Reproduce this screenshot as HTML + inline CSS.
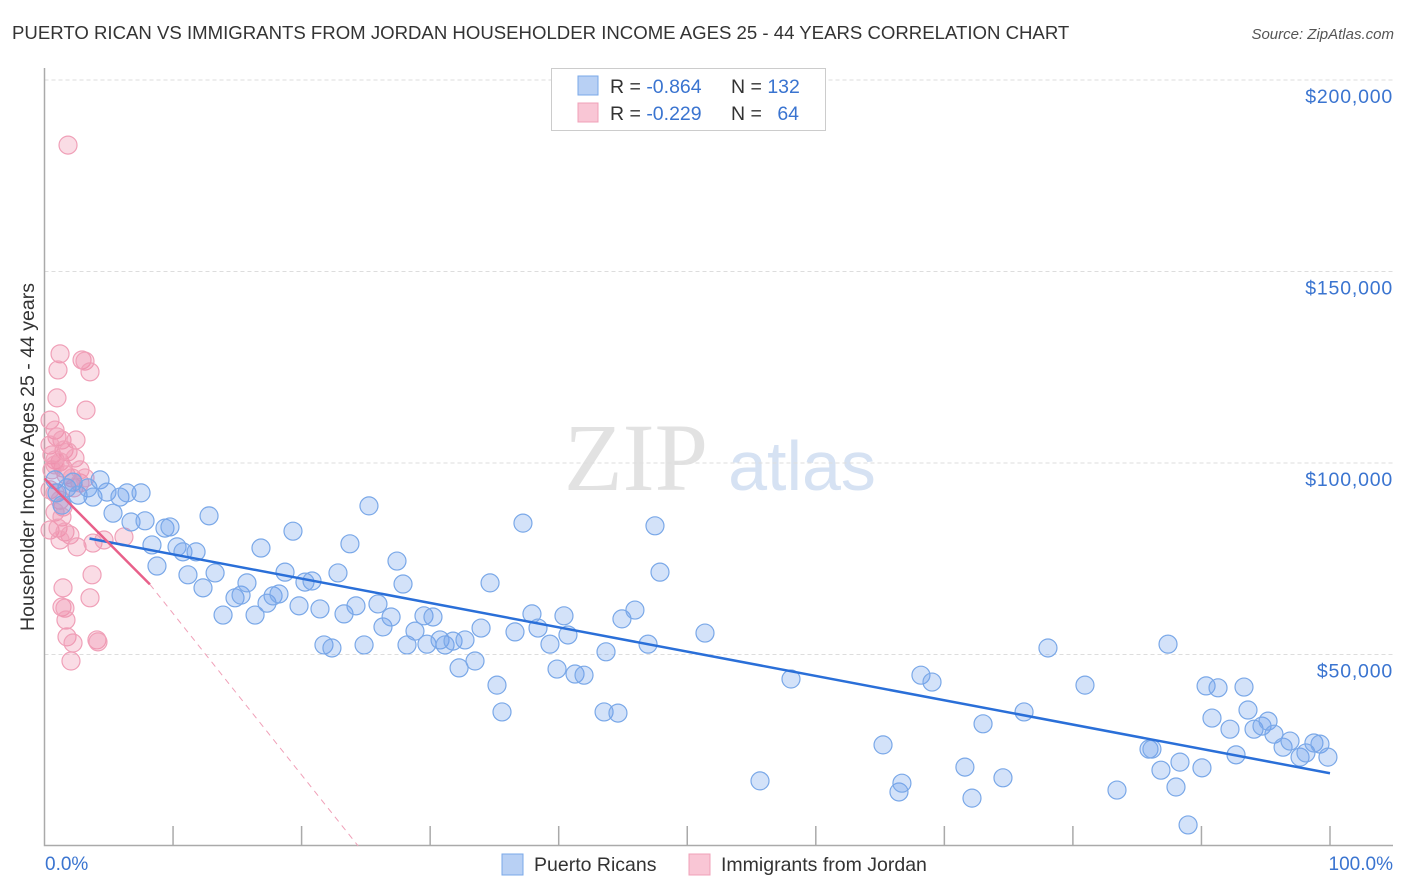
<!DOCTYPE html>
<html><head><meta charset="utf-8"><style>
body{margin:0;background:#fff;font-family:"Liberation Sans",sans-serif;}
svg{display:block}
</style></head><body>
<svg id="chart" width="1406" height="892">
<text x="12" y="39" font-size="18.6" fill="#333">PUERTO RICAN VS IMMIGRANTS FROM JORDAN HOUSEHOLDER INCOME AGES 25 - 44 YEARS CORRELATION CHART</text>
<text x="1394" y="39" font-size="15" fill="#555" font-style="italic" text-anchor="end">Source: ZipAtlas.com</text>
<text x="636" y="490" font-size="96" fill="#e2e2e2" font-family="Liberation Serif,serif" text-anchor="middle">ZIP</text>
<text x="802" y="490" font-size="70" fill="#d6e2f3" text-anchor="middle">atlas</text>
<g id="grid"></g><g id="axes"></g><g id="pts"></g><g id="lines"></g>
<text transform="translate(34,457) rotate(-90)" font-size="19.5" fill="#333" text-anchor="middle">Householder Income Ages 25 - 44 years</text>
<text x="45" y="870" font-size="19" fill="#3a74d0">0.0%</text>
<text x="1393" y="870" font-size="19" fill="#3a74d0" text-anchor="end">100.0%</text>
<g>
<rect x="551.5" y="68.5" width="274" height="62" fill="#fff" stroke="#ccc"/>
<rect x="578" y="76" width="20" height="19" fill="#b8d0f4" stroke="#7aa8e8"/>
<rect x="578" y="103" width="20" height="19" fill="#f9c6d5" stroke="#f0a0b8"/>
<text x="610" y="93" font-size="19.5" fill="#333">R = <tspan fill="#3a74d0">-0.864</tspan><tspan x="731">N = </tspan><tspan fill="#3a74d0">132</tspan></text>
<text x="610" y="120" font-size="19.5" fill="#333">R = <tspan fill="#3a74d0">-0.229</tspan><tspan x="731">N = </tspan><tspan fill="#3a74d0" dx="10">64</tspan></text>
</g>
<g>
<rect x="502" y="854" width="21" height="21" fill="#b8d0f4" stroke="#7aa8e8"/>
<text x="534" y="871" font-size="19.5" fill="#333">Puerto Ricans</text>
<rect x="689" y="854" width="21" height="21" fill="#f9c6d5" stroke="#f0a0b8"/>
<text x="721" y="871" font-size="19.5" fill="#333">Immigrants from Jordan</text>
</g>
</svg>
<script>
const yTicks=[50000,100000,150000,200000];
const yTickLabels=["$50,000","$100,000","$150,000","$200,000"];
const xTicks=[0,10,20,30,40,50,60,70,80,90,100];
const blueX=[0.97,1.36,0.82,1.75,2.22,2.61,3.38,3.77,4.32,4.86,5.33,5.87,6.42,6.73,7.51,7.82,8.36,8.75,9.37,9.76,10.31,10.77,11.16,11.79,12.33,12.8,13.27,13.89,14.82,15.29,15.75,16.38,16.84,17.31,17.78,18.24,18.71,19.33,19.8,20.26,20.81,21.43,21.74,22.36,22.83,23.3,23.76,24.23,24.86,25.24,25.94,26.33,26.96,27.42,27.89,28.2,28.82,29.52,29.75,30.22,30.77,31.16,31.78,32.25,32.71,33.49,33.96,34.66,35.2,35.59,36.6,37.22,37.92,38.39,39.32,39.87,40.41,40.72,41.27,41.97,43.53,43.68,44.61,44.92,45.93,46.95,47.49,47.88,51.38,58.07,55.66,65.23,66.47,66.7,68.18,69.04,71.6,72.15,73.01,74.56,76.2,78.06,80.94,83.43,85.92,86.15,86.85,87.4,88.02,88.33,88.96,90.04,90.36,90.82,91.29,92.22,92.69,93.31,93.62,94.09,94.71,95.18,95.64,96.35,96.89,97.67,98.13,98.75,99.22,99.84];
const blueY=[92.2,89.0,95.6,93.5,95.0,91.6,93.5,91.1,95.6,92.4,86.9,91.1,92.2,84.6,92.2,84.9,78.6,73.1,83.0,83.3,78.1,76.8,70.8,76.8,67.4,86.2,71.3,60.3,64.8,65.5,68.7,60.3,77.8,63.4,65.3,65.8,71.5,82.2,62.7,68.9,69.2,61.9,52.5,51.7,71.3,60.6,78.9,62.7,52.5,88.8,63.2,57.2,59.8,74.4,68.4,52.5,56.1,60.1,52.7,59.8,53.8,52.5,53.5,46.5,53.8,48.3,56.9,68.7,42.0,35.0,55.9,84.3,60.6,56.9,52.7,46.2,60.1,55.1,44.9,44.6,35.0,50.7,34.7,59.3,61.6,52.7,83.6,71.5,55.6,43.6,17.0,26.4,14.1,16.4,44.6,42.8,20.6,12.5,31.9,17.8,35.0,51.7,42.0,14.6,25.3,25.3,19.8,52.7,15.4,21.9,5.5,20.4,41.8,33.4,41.3,30.5,23.8,41.5,35.5,30.5,31.3,32.6,29.2,25.8,27.4,23.2,24.3,26.9,26.6,23.2];
const pinkX=[1.83,1.21,2.92,3.15,3.54,1.05,0.97,3.23,0.43,0.82,0.97,1.36,0.43,2.45,1.52,1.83,0.58,0.82,1.21,1.44,1.67,0.58,2.14,2.29,2.76,0.43,0.82,1.21,1.44,0.82,1.36,0.43,1.05,1.59,1.98,1.21,2.53,3.77,4.63,6.18,3.7,1.44,3.54,1.36,1.59,1.67,1.75,2.22,4.08,4.16,2.06,0.82,2.37,2.76,3.15];
const pinkY=[183.0,128.5,126.9,126.6,123.8,124.3,117.0,113.8,111.2,108.6,106.8,106.0,104.7,106.0,103.4,102.9,102.1,100.8,100.3,98.7,96.9,98.2,96.1,93.5,94.8,93.0,92.2,90.3,88.5,87.2,85.9,82.5,83.0,82.0,81.2,79.9,78.1,79.1,79.9,80.7,70.8,67.4,64.8,62.4,62.1,59.0,54.6,53.0,53.8,53.3,48.3,99.5,101.3,98.2,96.1];
const blueTrend=[[0,82.5],[100,19.0]];
const pinkTrend=[[0,96.0],[8.2,68.3],[24.4,0]];
const NS="http://www.w3.org/2000/svg";
const X0=44.5,X1=1330,Y0=846,PPK=191.5/50;
const xs=p=>X0+p*(X1-X0)/100;
const ys=k=>Y0-k*PPK;
function mk(tag,attrs,parent){const e=document.createElementNS(NS,tag);for(const k in attrs)e.setAttribute(k,attrs[k]);parent.appendChild(e);return e;}
const grid=document.getElementById('grid'),axes=document.getElementById('axes'),pts=document.getElementById('pts'),lines=document.getElementById('lines');
yTicks.forEach((t,i)=>{const y=ys(t/1000);
const g=mk('line',{x1:X0,x2:1393,y1:y,y2:y,stroke:'#ddd','stroke-dasharray':'4,3'},grid);


const l=mk('text',{x:1393,y:y+23,'font-size':19.5,'letter-spacing':0.8,fill:'#3a74d0','text-anchor':'end'},grid);l.textContent=yTickLabels[i];

});
const ax=mk('path',{d:`M${X0} 68V${Y0-0.5}H1393`,stroke:'#aaa','stroke-width':1.5,fill:'none'},axes);


xTicks.slice(1).forEach(t=>{const x=xs(t);const tk=mk('line',{x1:x,x2:x,y1:Y0-20,y2:Y0,stroke:'#aaa','stroke-width':1.5},axes);

});
function dots(X,Y,fill,stroke,name){X.forEach((p,i)=>{const c=mk('circle',{cx:xs(p),cy:ys(Y[i]),r:9,fill:fill,stroke:stroke,'stroke-width':1.2},pts);

});}
dots(pinkX,pinkY,'rgba(240,140,170,0.3)','#f0a0b8','jordan-point');
dots(blueX,blueY,'rgba(110,160,235,0.3)','#7aa8e8','puerto-rican-point');
const bl=mk('line',{x1:xs(blueTrend[0][0]+3.5),y1:ys(blueTrend[0][1]+(blueTrend[1][1]-blueTrend[0][1])*0.035),x2:xs(blueTrend[1][0]),y2:ys(blueTrend[1][1]),stroke:'#2a6fd8','stroke-width':2.5},lines);


const ps=mk('line',{x1:xs(pinkTrend[0][0]),y1:ys(pinkTrend[0][1]),x2:xs(pinkTrend[1][0]),y2:ys(pinkTrend[1][1]),stroke:'#e8608a','stroke-width':2.5},lines);


const pd=mk('line',{x1:xs(pinkTrend[1][0]),y1:ys(pinkTrend[1][1]),x2:xs(pinkTrend[2][0]),y2:ys(pinkTrend[2][1]),stroke:'#f0a0b8','stroke-width':1,'stroke-dasharray':'6,5'},lines);


</script>
</body></html>
